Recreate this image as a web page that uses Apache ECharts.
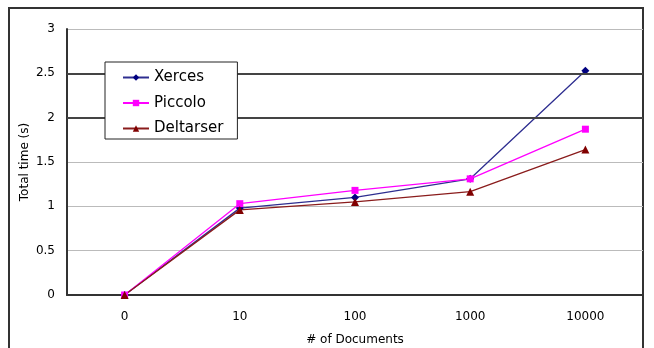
<!doctype html>
<html lang="en">
    <head>
        <meta charset="UTF-8">
        <title>Total time</title>
        <style>
            html, body { margin: 0; padding: 0; background: #fff; }
            #main { width: 654px; height: 348px; }
        </style>
    </head>
    <body>
        <div id="main"></div>
        <script src="https://cdn.jsdelivr.net/npm/echarts@6/dist/echarts.min.js"></script>
        <script type="text/javascript">
        // data
        var categories = ['0', '10', '100', '1000', '10000'];
        var xerces = [0, 0.98, 1.10, 1.31, 2.53];
        var piccolo = [0, 1.03, 1.18, 1.31, 1.87];
        var deltarser = [0, 0.96, 1.05, 1.165, 1.64];
        var darkLines = [2, 2.5];

        var font = 'DejaVu Sans, Verdana, sans-serif';
        var myChart = echarts.init(document.getElementById('main'));

        var option = {
            backgroundColor: '#fff',
            animation: false,
            textStyle: { fontFamily: font },
            graphic: [{
                type: 'rect',
                shape: { x: 9, y: 8, width: 634, height: 360 },
                style: { fill: 'none', stroke: '#333', lineWidth: 2 },
                z: 0
            }],
            legend: {
                z: 10,
                orient: 'vertical',
                left: 105,
                top: 62,
                padding: [8, 14, 3, 17],
                itemWidth: 26,
                itemHeight: 8,
                itemGap: 10.5,
                backgroundColor: '#fff',
                borderColor: '#222',
                borderWidth: 1,
                textStyle: { fontSize: 15, color: '#000', fontFamily: font },
                data: ['Xerces', 'Piccolo', 'Deltarser']
            },
            grid: { left: 67, top: 29, right: 11, bottom: 53, containLabel: false, outerBoundsMode: 'none' },
            xAxis: {
                type: 'category',
                data: categories,
                boundaryGap: true,
                name: '# of Documents',
                nameLocation: 'middle',
                nameGap: 39,
                nameMoveOverlap: false,
                nameTextStyle: { fontSize: 12, color: '#000' },
                axisLine: { lineStyle: { color: '#333', width: 2 } },
                axisTick: { inside: true, length: 5, lineStyle: { color: '#333' } },
                axisLabel: { fontSize: 12, color: '#000', margin: 16 }
            },
            yAxis: {
                type: 'value',
                min: 0,
                max: 3,
                interval: 0.5,
                name: 'Total time (s)',
                nameLocation: 'middle',
                nameRotate: 90,
                nameGap: 36,
                nameMoveOverlap: false,
                nameTextStyle: { fontSize: 12, color: '#000' },
                axisLine: { show: true, lineStyle: { color: '#333', width: 2 } },
                axisTick: { show: false },
                axisLabel: { fontSize: 12, color: '#000', margin: 12 },
                splitLine: { lineStyle: { color: '#bbb', width: 1 } }
            },
            series: [
                {
                    name: 'Xerces',
                    type: 'line',
                    data: xerces,
                    symbol: 'diamond',
                    symbolSize: 8,
                    itemStyle: { color: '#000080' },
                    lineStyle: { color: '#2e2e90', width: 1.3 },
                    markLine: {
                        silent: true,
                        symbol: 'none',
                        label: { show: false },
                        lineStyle: { color: '#444', width: 2, type: 'solid' },
                        data: darkLines.map(function (v) { return { yAxis: v }; })
                    }
                },
                {
                    name: 'Piccolo',
                    type: 'line',
                    data: piccolo,
                    symbol: 'rect',
                    symbolSize: 7,
                    itemStyle: { color: '#ff00ff' },
                    lineStyle: { color: '#ff00ff', width: 1.3 }
                },
                {
                    name: 'Deltarser',
                    type: 'line',
                    data: deltarser,
                    symbol: 'triangle',
                    symbolSize: 8,
                    itemStyle: { color: '#800000' },
                    lineStyle: { color: '#8a1c1c', width: 1.3 }
                }
            ]
        };

        myChart.setOption(option);
        </script>
    </body>
</html>
